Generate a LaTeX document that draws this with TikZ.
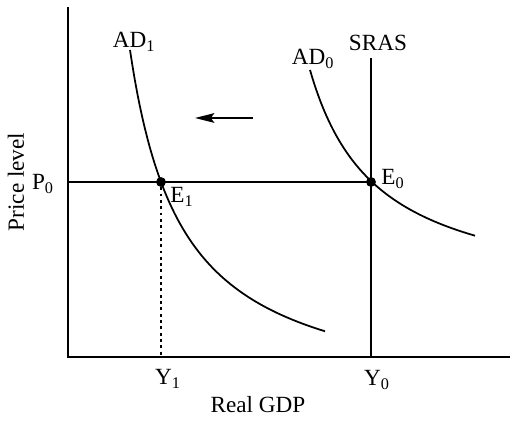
\documentclass[tikz,border=0pt]{standalone}
\usepackage{fontspec}
\setmainfont{Liberation Serif}
\usetikzlibrary{arrows.meta}
\begin{document}
\begin{tikzpicture}[x=0.02cm,y=-0.02cm,
  lbl/.style={font=\fontsize{13.2}{15}\selectfont, inner sep=0pt},
  axisline/.style={line width=1.1pt},
  curve/.style={line width=1pt},
  dot/.style={circle, fill=black, inner sep=0pt, minimum size=5.6pt}]
\useasboundingbox (0,0) rectangle (520,421);
% axes
\coordinate (O) at (68,357);
\coordinate (ytop) at (68,7);
\coordinate (xend) at (510,357);
\draw[axisline] (ytop) -- (O) -- (xend);
% SRAS
\coordinate (srastop) at (371,58);
\coordinate (srasbot) at (371,357);
\draw[axisline] (srastop) -- (srasbot);
% curves
\draw[curve] plot[domain=130:325, samples=80] (\x, {407.7 - 1000*(18.957/(\x-77))});
\draw[curve] plot[domain=310:475, samples=80] (\x, {303 - 1000*(15.614/(\x-243))});
% equilibrium points
\coordinate (P0) at (68,182);
\node[dot] (E0) at (371,182) {};
\node[dot] (E1) at (161,182) {};
\draw[axisline] (P0) -- (E0.center);
\coordinate (Y1) at (161,357);
\draw[line width=1pt, dash pattern=on 1.6pt off 2pt] (E1) -- (Y1);
% shift arrow
\coordinate (a1) at (253,118);
\coordinate (a2) at (195,118);
\draw[line width=1pt, -{Stealth[length=11pt, width=5.5pt, inset=2pt]}] (a1) -- (a2);
% labels
\node[lbl] (lAD1) at (134,42) {AD\textsubscript{1}};
\node[lbl] (lAD0) at (313,59) {AD\textsubscript{0}};
\node[lbl] (lSRAS) at (378,43) {SRAS};
\node[lbl] (lE0) at (393,179) {E\textsubscript{0}};
\node[lbl] (lE1) at (182,197) {E\textsubscript{1}};
\node[lbl] (lP0) at (43,184) {P\textsubscript{0}};
\node[lbl] (lY1) at (168,379) {Y\textsubscript{1}};
\node[lbl] (lY0) at (377,380) {Y\textsubscript{0}};
\node[lbl] (lx) at (258,405) {Real GDP};
\node[lbl, rotate=90] (ly) at (16,182) {Price level};
\end{tikzpicture}
\end{document}
